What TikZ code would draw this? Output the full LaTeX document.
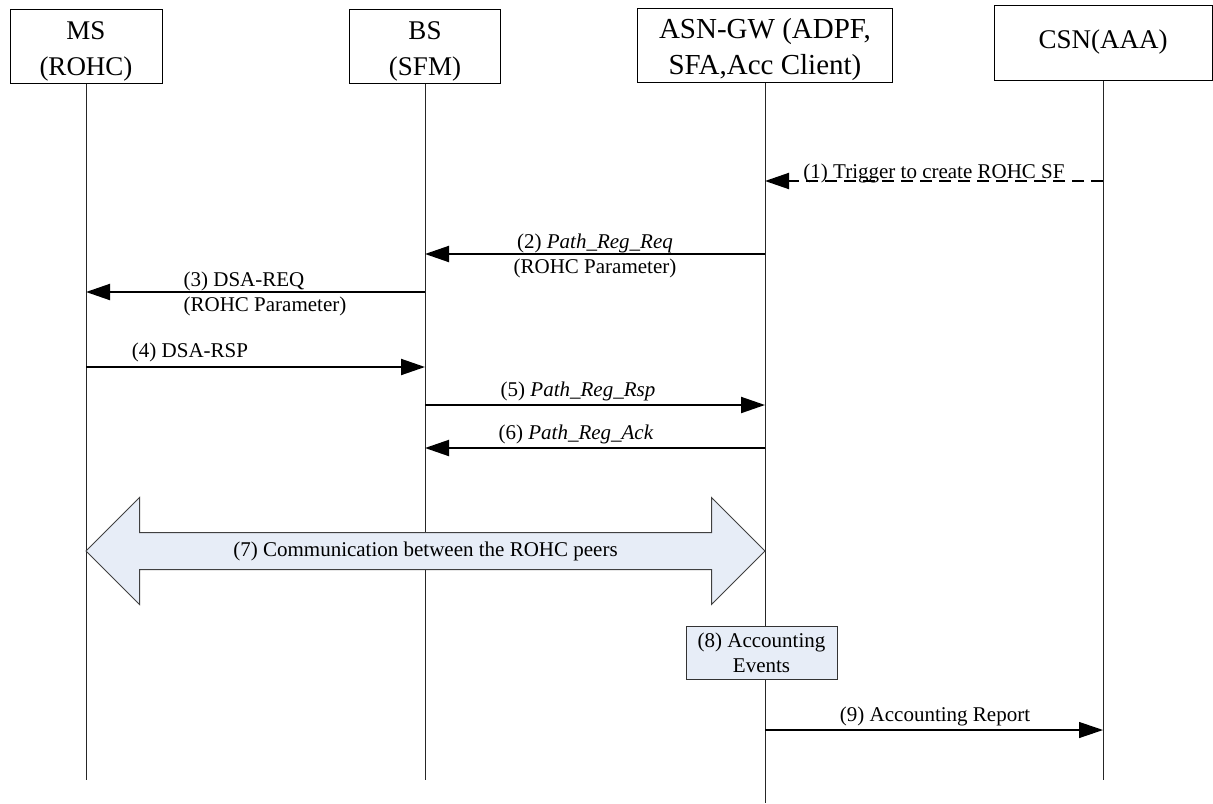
\documentclass[tikz,border=0pt]{standalone}
\usepackage{fontspec}
\setmainfont{Liberation Serif}
\usetikzlibrary{arrows.meta,shapes.arrows}

\definecolor{boxfill}{RGB}{231,237,247}

\tikzset{
	entity/.style={draw, line width=0.5pt, minimum height=37pt, align=center, font=\fontsize{13.5}{17.5}\selectfont},
	low/.style={inner ysep=0pt, text height=29pt, text depth=0pt},
	life/.style={line width=0.5pt, black!85},
	msg/.style={line width=1pt, -{Triangle[length=12pt,width=8pt]}},
	lbl/.style={font=\fontsize{10.5}{12.5}\selectfont, inner sep=0pt}
}

\begin{document}
\begin{tikzpicture}[x=0.5pt, y=-0.5pt]
		\useasboundingbox (0,0) rectangle (1213,803);

		\node[entity, low, minimum width=76pt] (ms) at (86,46) {MS\\(ROHC)};
		\node[entity, low, minimum width=75.5pt] (bs) at (425,46) {BS\\(SFM)};
		\node[entity, low, minimum width=127.5pt, font=\fontsize{14.5}{17.5}\selectfont] (gw) at (765,45) {ASN-GW (ADPF,\\SFA,Acc Client)};
		\node[entity, minimum width=109pt, minimum height=37.5pt] (csn) at (1103,42.5) {CSN(AAA)};

		\coordinate (msend) at (86,780);
		\coordinate (bsend) at (425,780);
		\coordinate (gwend) at (765,803);
		\coordinate (csnend) at (1103,780);

		\draw[life] (ms.south) -- (msend);
		\draw[life] (bs.south) -- (bsend);
		\draw[life] (gw.south) -- (gwend);
		\draw[life] (csn.south) -- (csnend);

		\coordinate (csn1) at (1103,181);
		\coordinate (gw1) at (765,181);
		\coordinate (gw2) at (765,254);
		\coordinate (bs2) at (425,254);
		\coordinate (bs3) at (425,292);
		\coordinate (ms3) at (86,292);
		\coordinate (ms4) at (86,367);
		\coordinate (bs4) at (425,367);
		\coordinate (bs5) at (425,405);
		\coordinate (gw5) at (765,405);
		\coordinate (gw6) at (765,448);
		\coordinate (bs6) at (425,448);
		\coordinate (gw9) at (765,730);
		\coordinate (csn9) at (1103,730);

		\draw[msg, dash pattern=on 6pt off 3.5pt] (csn1) -- (gw1);
		\draw[msg] (gw2) -- (bs2);
		\draw[msg] (bs3) -- (ms3);
		\draw[msg] (ms4) -- (bs4);
		\draw[msg] (bs5) -- (gw5);
		\draw[msg] (gw6) -- (bs6);
		\draw[msg, line width=0.6pt] (gw9) -- (csn9);

		\node[lbl, anchor=base] (t1) at (934,178) {(1) Trigger to create ROHC SF};
		\node[lbl, align=center] (t2) at (595,256) {(2) \textit{Path\_Reg\_Req}\\(ROHC Parameter)};
		\node[lbl, align=left] (t3) at (265,294) {(3) DSA-REQ\\(ROHC Parameter)};
		\node[lbl, anchor=base] (t4) at (190,357) {(4) DSA-RSP};
		\node[lbl, anchor=base] (t5) at (578,396) {(5) \textit{Path\_Reg\_Rsp}};
		\node[lbl, anchor=base] (t6) at (576,439) {(6) \textit{Path\_Reg\_Ack}};
		\node[lbl, anchor=base] (t9) at (935,721) {(9) Accounting Report};

		\node[double arrow, draw=black!75, line width=0.5pt, fill=boxfill, lbl, inner xsep=2pt, inner ysep=4.5pt, text height=7pt, text depth=2pt, minimum height=339.5pt, double arrow head extend=17.5pt] (peers) at (425.5,551) {(7) Communication between the ROHC peers};

		\node[draw=black!80, line width=0.5pt, fill=boxfill, lbl, align=center, minimum width=75.5pt, minimum height=26.5pt] (acct) at (761.5,652.5) {(8) Accounting\\Events};
\end{tikzpicture}
\end{document}
